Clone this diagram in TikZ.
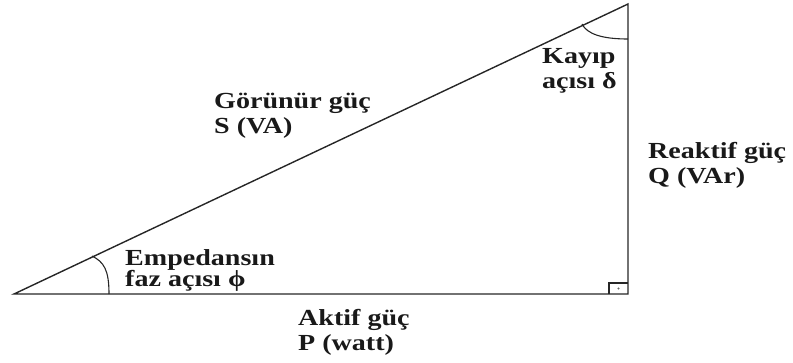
\documentclass[tikz,border=0pt]{standalone}
\usepackage{fontspec}
\setmainfont{Liberation Serif}[FakeStretch=1.22]
\begin{document}
\begin{tikzpicture}[x=1pt,y=-1pt,
  side/.style={draw=black!85,line width=1.4pt},
  thin side/.style={draw=black!85,line width=1.1pt},
  lbl/.style={anchor=base west,inner sep=0pt,font=\fontsize{23}{25}\selectfont\bfseries,text=black!90}]
\useasboundingbox (0,0) rectangle (793,362);
\coordinate (A) at (14,294);
\coordinate (B) at (628,294);
\coordinate (C) at (628,4);
\draw[side] (A) -- (B) -- (C) -- cycle;
% right angle mark
\coordinate (r1) at (609,294);
\coordinate (r2) at (609,283);
\coordinate (r3) at (628,283);
\draw[thin side] (r1) -- (r2) -- (r3);
\fill[black!60] (618.5,288.5) circle (1.1pt);
% angle arcs
\coordinate (pa) at (92,256);
\coordinate (pb) at (109,294);
\draw[thin side] (pa) .. controls (104,262) and (109,270) .. (pb);
\coordinate (ca) at (582,24);
\coordinate (cb) at (628,39);
\draw[thin side] (ca) .. controls (587,34) and (602,39) .. (cb);
% labels
\node[lbl] (k1) at (542,63) {Kayıp};
\node[lbl] (k2) at (542,88) {açısı δ};
\node[lbl] (g1) at (214,108) {Görünür güç};
\node[lbl] (g2) at (214,133) {S (VA)};
\node[lbl] (q1) at (648,158) {Reaktif güç};
\node[lbl] (q2) at (648,183) {Q (VAr)};
\node[lbl] (e1) at (125,265) {Empedansın};
\node[lbl] (e2) at (125,286) {faz açısı ϕ};
\node[lbl] (p1) at (298,325) {Aktif güç};
\node[lbl] (p2) at (298,350) {P (watt)};
\end{tikzpicture}
\end{document}
